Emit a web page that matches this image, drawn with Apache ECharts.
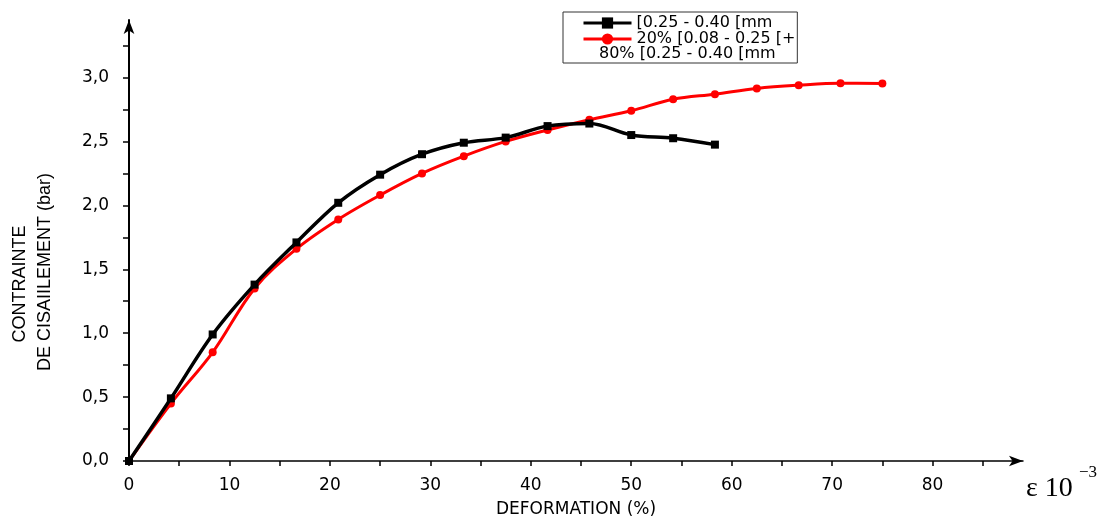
<!DOCTYPE html>
<html>
<head>
<meta charset="utf-8">
<script src="https://cdn.jsdelivr.net/npm/echarts@6/dist/echarts.min.js"></script>
<style>html,body{margin:0;padding:0;background:#fff}#c{width:1101px;height:517px}</style>
</head>
<body>
<div id="c"></div>
<script>
// Deformation (ε 10^-3) sample positions
const deformation = [0, 4.17, 8.33, 12.5, 16.67, 20.83, 25, 29.17, 33.33, 37.5, 41.67, 45.83, 50, 54.17, 58.33, 62.5, 66.67, 70.83, 75];
// Shear stress (bar)
const stressCoarse = [0, 0.49, 0.99, 1.38, 1.71, 2.02, 2.24, 2.40, 2.49, 2.53, 2.62, 2.64, 2.55, 2.525, 2.475];
const stressMix = [0, 0.45, 0.85, 1.35, 1.66, 1.89, 2.08, 2.25, 2.385, 2.50, 2.59, 2.67, 2.74, 2.83, 2.87, 2.915, 2.94, 2.955, 2.953];
const seriesNames = ['[0.25 - 0.40 [mm', '20% [0.08 - 0.25 [+'];
const legendExtraLine = '80% [0.25 - 0.40 [mm';
const xTicks = [0, 5, 10, 15, 20, 25, 30, 35, 40, 45, 50, 55, 60, 65, 70, 75, 80, 85];
const xLabels = [0, 10, 20, 30, 40, 50, 60, 70, 80];
const yTicks = [0, 0.25, 0.5, 0.75, 1, 1.25, 1.5, 1.75, 2, 2.25, 2.5, 2.75, 3, 3.25];
const yLabels = [0, 0.5, 1, 1.5, 2, 2.5, 3];

const pair = (xs, ys) => ys.map((y, i) => [xs[i], y]);

const chart = echarts.init(document.getElementById('c'), null, {renderer: 'canvas'});
chart.setOption({
  animation: false,
  backgroundColor: '#fff',
  grid: {left: 129, right: 78, top: 20, bottom: 56, containLabel: false, outerBoundsMode: 'none'},
  xAxis: {
    type: 'value', min: 0, max: 89,
    name: 'DEFORMATION (%)', nameLocation: 'middle', nameGap: 40,
    nameTextStyle: {fontFamily: 'DejaVu Sans', fontSize: 17, color: '#000'},
    splitLine: {show: false},
    axisLine: {show: true, onZero: false, lineStyle: {color: '#000', width: 1.5},
      symbol: ['none', 'arrow'], symbolSize: [8, 14]},
    axisTick: {show: true, inside: false, length: 5, customValues: xTicks, lineStyle: {color: '#000', width: 1.5}},
    axisLabel: {customValues: xLabels, margin: 16, color: '#000', fontFamily: 'DejaVu Sans', fontSize: 17}
  },
  yAxis: {
    type: 'value', min: 0, max: 3.45,
    splitLine: {show: false},
    axisLine: {show: true, onZero: false, lineStyle: {color: '#000', width: 2},
      symbol: ['none', 'arrow'], symbolSize: [8, 14]},
    axisTick: {show: true, inside: false, length: 6, customValues: yTicks, lineStyle: {color: '#000', width: 1.5}},
    axisLabel: {customValues: yLabels, margin: 20, color: '#000', fontFamily: 'DejaVu Sans', fontSize: 17,
      formatter: v => v.toFixed(1).replace('.', ',')}
  },
  legend: {
    orient: 'vertical', left: 563, top: 12,
    padding: [3, 2, 16, 19], itemGap: 0, itemWidth: 48, itemHeight: 14,
    borderColor: '#333', borderWidth: 1, backgroundColor: '#fff',
    lineStyle: {width: 3},
    textStyle: {fontFamily: 'DejaVu Sans', fontSize: 16, lineHeight: 14, color: '#000'},
    data: seriesNames
  },
  graphic: [
    {type: 'text', left: 599, top: 46, z: 100,
      style: {text: legendExtraLine, fontFamily: 'DejaVu Sans', fontSize: 16, fill: '#000'}},
    {type: 'text', x: 20, y: 284, rotation: Math.PI / 2, z: 100,
      style: {text: 'CONTRAINTE', fontFamily: 'Liberation Sans, Arial', fontSize: 18, fill: '#000', align: 'center', verticalAlign: 'middle'}},
    {type: 'text', x: 45, y: 272, rotation: Math.PI / 2, z: 100,
      style: {text: 'DE CISAIILEMENT (bar)', fontFamily: 'Liberation Sans, Arial', fontSize: 18, fill: '#000', align: 'center', verticalAlign: 'middle'}},
    {type: 'text', left: 1026, top: 475, z: 100,
      style: {text: 'ε 10', fontFamily: 'Liberation Serif, Times New Roman', fontSize: 28, fill: '#000'}},
    {type: 'text', left: 1079, top: 464, z: 100,
      style: {text: '−3', fontFamily: 'Liberation Serif, Times New Roman', fontSize: 17, fill: '#000'}}
  ],
  series: [
    {name: seriesNames[0], type: 'line', smooth: 0.35, data: pair(deformation, stressCoarse),
      symbol: 'rect', symbolSize: 8, itemStyle: {color: '#000'}, lineStyle: {color: '#000', width: 3.5}, z: 3},
    {name: seriesNames[1], type: 'line', smooth: 0.35, data: pair(deformation, stressMix),
      symbol: 'circle', symbolSize: 8, itemStyle: {color: '#ff0000'}, lineStyle: {color: '#ff0000', width: 3}, z: 2}
  ]
});
</script>
</body>
</html>
